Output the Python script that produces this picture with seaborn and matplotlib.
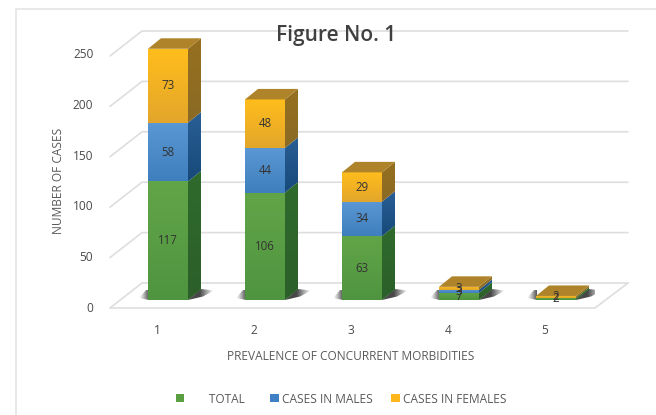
import numpy as np
import matplotlib
matplotlib.use("Agg")
import matplotlib.pyplot as plt
from matplotlib.patches import Polygon
from matplotlib.transforms import Affine2D, ScaledTranslation
from matplotlib.colors import to_rgb
import seaborn as sns

categories = ["1", "2", "3", "4", "5"]
total = [117, 106, 63, 7, 2]
males = [58, 44, 34, 3, 0]
females = [73, 48, 29, 3, 2]
y_ticks = [0, 50, 100, 150, 200, 250]
series_names = ["TOTAL", "CASES IN MALES", "CASES IN FEMALES"]
title_text = "Figure No. 1"
x_title = "PREVALENCE OF CONCURRENT MORBIDITIES"
y_title = "NUMBER OF CASES"

W, H = 656, 415
sns.set_theme(style="white")
plt.rcParams["font.family"] = ["Open Sans", "DejaVu Sans"]
TXT = "#5a5a5a"

fig = plt.figure(figsize=(W / 100, H / 100), dpi=100, facecolor="white")
L, R, T, B = 110, 595, 28, 308
ax = fig.add_axes([L / W, 1 - B / H, (R - L) / W, (B - T) / H])
px_per_unit = 1.013
px_per_cat = 97.0
x_lim = ((L - 168) / px_per_cat, (R - 168) / px_per_cat)
y_lim = ((300 - B) / px_per_unit, (300 - T) / px_per_unit)
pix = Affine2D().scale(1, -1).translate(0, H)

bar_w = 40 / px_per_cat
dx = 13 / px_per_cat
dy = 10.5 / px_per_unit
styles = [
    dict(top="#62a548", bot="#4f9440", side_t="#2f6b2c", side_b="#2c5f2a"),
    dict(top="#5a97d4", bot="#3f7fbd", side_t="#2a5f96", side_b="#174a7a"),
    dict(top="#ffbd1c", bot="#e3a62b", side_t="#96701f", side_b="#8a6a25"),
]
cap_color = "#ae8329"
colors = ["#5aa042", "#3f80c4", "#fdb71d"]


def vgrad(c_top, c_bot, n=64):
    a, b = np.array(to_rgb(c_top)), np.array(to_rgb(c_bot))
    t = np.linspace(0, 1, n)[:, None, None]
    return a * (1 - t) + b * t


# outer frame and wall/floor lines, in pixel space
grid_c = "#dedede"
line_kw = dict(transform=pix, color=grid_c, lw=1.2, clip_on=False, zorder=0.5)
for v in y_ticks:
    fy = B - v * 1.008
    ax.plot([L, L + 32, 628], [fy, fy - 25, fy - 25], **line_kw)
ax.plot([L, R, 628], [B, B, B - 25], **line_kw)
ax.plot([15.5, 15.5, W], [H, 8.5, 8.5], transform=pix, color="#e4e4e4", lw=1.2,
        clip_on=False, zorder=0.4)

# stacked front faces through seaborn
bottom = np.zeros(len(categories))
stack = []
for vals, name, col in zip([total, males, females], series_names, colors):
    vals = np.array(vals, float)
    n0 = len(ax.patches)
    sns.barplot(x=categories, y=vals, bottom=bottom, color=col, width=bar_w, saturation=1,
                order=categories, ax=ax, label=name, legend=False, linewidth=0)
    stack.append((vals, bottom.copy(), ax.patches[n0:]))
    bottom = bottom + vals

heights = bottom
ux = 1 / px_per_cat
uy = 1 / px_per_unit
for i, h in enumerate(heights):
    x0, x1 = i - bar_w / 2, i + bar_w / 2
    # soft floor shadow either side of the base
    left_pts = [(x0 - 9 * ux, 2 * uy), (x0 - 2 * ux, 10 * uy), (x0 + ux, 10 * uy), (x0 + ux, 0)]
    right_pts = [(x1, 0), (x1 + dx, 11 * uy), (x1 + dx + 13 * ux, 9.5 * uy), (x1 + dx + 2 * ux, 3.5 * uy)]
    for (xa, xb, ramp, pts) in [
        (x0 - 9 * ux, x0 + ux, np.linspace(0, 0.72, 32) ** 1.2, left_pts),
        (x1, x1 + dx + 13 * ux, np.r_[np.full(14, 0.72), np.linspace(0.72, 0, 18)], right_pts),
    ]:
        img = np.zeros((1, len(ramp), 4))
        img[0, :, 3] = ramp
        im = ax.imshow(img, extent=[xa, xb, 0, 12 * uy], aspect="auto", zorder=0.8,
                       interpolation="bilinear")
        im.set_clip_path(Polygon(pts, transform=ax.transData))

for (vals, base, patches), st in zip(stack, styles):
    for i, (v, b, p) in enumerate(zip(vals, base, patches)):
        if v <= 0:
            continue
        x0, x1 = i - bar_w / 2, i + bar_w / 2
        im = ax.imshow(vgrad(st["top"], st["bot"]), extent=[x0, x1, b, b + v], aspect="auto", zorder=1.5)
        im.set_clip_path(p)
        side = Polygon([(x1, b), (x1 + dx, b + dy), (x1 + dx, b + v + dy), (x1, b + v)],
                       transform=ax.transData)
        im = ax.imshow(vgrad(st["side_t"], st["side_b"]),
                       extent=[x1, x1 + dx, b, b + v + dy], aspect="auto", zorder=1.6)
        im.set_clip_path(side)

# top caps and data labels
for i, h in enumerate(heights):
    x0, x1 = i - bar_w / 2, i + bar_w / 2
    ax.fill([x0, x1, x1 + dx, x0 + dx], [h, h, h + dy, h + dy], color=cap_color, lw=0,
            clip_on=False, zorder=1.7)
for vals, base, _ in stack:
    for i, (v, b) in enumerate(zip(vals, base)):
        if v > 0:
            ax.text(i, b + v / 2, f"{int(v)}", ha="center", va="center", fontsize=8.3,
                    color="#333333", zorder=5, clip_on=False)

ax.set_xlim(*x_lim)
ax.set_ylim(*y_lim)
for s in ax.spines.values():
    s.set_visible(False)
ax.patch.set_alpha(0)
ax.grid(False)

ax.set_yticks(y_ticks)
ax.set_yticklabels([str(v) for v in y_ticks])
ax.tick_params(axis="y", length=0, pad=12, labelsize=8.6, labelcolor="#4a4a4a")
ax.tick_params(axis="x", length=0, pad=11.5, labelsize=8.6, labelcolor="#4a4a4a")
for lab in ax.get_yticklabels():
    lab.set_transform(lab.get_transform() + ScaledTranslation(0, -6.5 / 100, fig.dpi_scale_trans))
for lab in ax.get_xticklabels():
    lab.set_transform(lab.get_transform() + ScaledTranslation(-11 / 100, 0, fig.dpi_scale_trans))

ax.set_xlabel(x_title, fontsize=8.6, color=TXT, va="center")
ax.xaxis.set_label_coords((351 - L) / (R - L), (B - 356) / (B - T))
ax.set_ylabel(y_title, fontsize=8.6, color=TXT, va="center")
ax.yaxis.set_label_coords((58 - L) / (R - L), (B - 181) / (B - T))
ax.text((336.5 - L) / (R - L), (B - 35) / (B - T), title_text, transform=ax.transAxes,
        ha="center", va="center", fontsize=15, color="#404040", fontweight="semibold",
        zorder=6, clip_on=False)

handles = [stack[k][2][0] for k in range(3)]
leg = ax.legend(handles, ["       " + series_names[0] + "  ", series_names[1], series_names[2]],
                ncol=3, loc="center", bbox_to_anchor=((341 - L) / (R - L), (B - 399) / (B - T)),
                frameon=False, fontsize=8.6, handlelength=0.7, handleheight=0.6,
                columnspacing=1.6, handletextpad=0.25, labelcolor=TXT)

fig.savefig("out.png", dpi=100, facecolor="white")
